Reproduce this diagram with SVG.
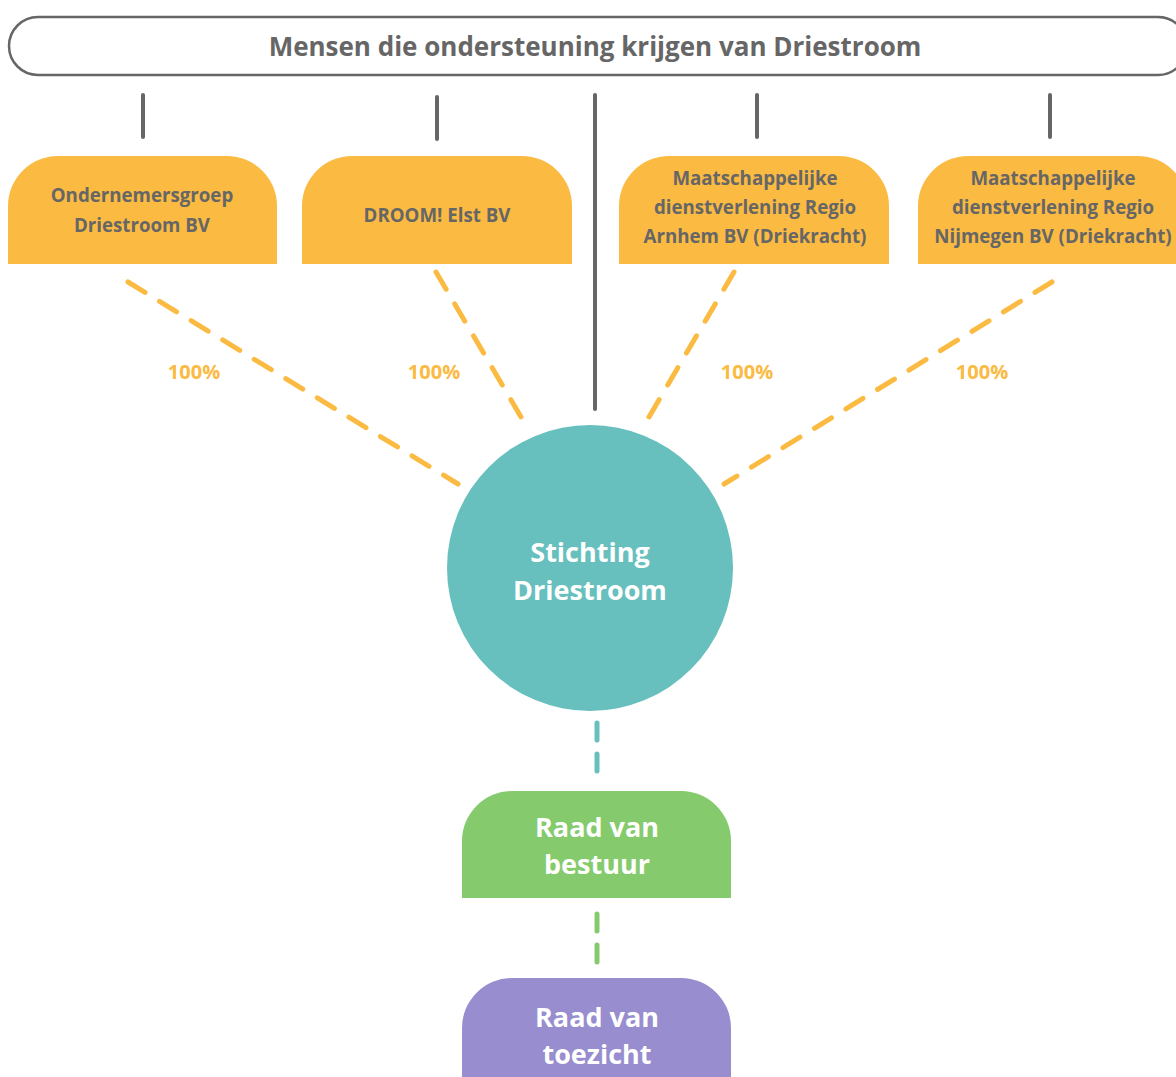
<svg xmlns="http://www.w3.org/2000/svg" width="1176" height="1077" viewBox="0 0 1176 1077">
<defs>
<style>
.gray{stroke:#666;stroke-width:4;stroke-linecap:round;fill:none}
.odash{stroke:#FBBA42;stroke-width:5;stroke-linecap:round;stroke-dasharray:20 17;fill:none}
.tdash{stroke:#67C0BD;stroke-width:5;stroke-linecap:round;stroke-dasharray:17 14;fill:none}
.gdash{stroke:#85CB6D;stroke-width:5;stroke-linecap:round;stroke-dasharray:17 14;fill:none}
.otxt{font-family:"Open Sans","Liberation Sans",sans-serif;font-weight:700;font-size:18.7px;fill:#666;text-anchor:middle}
.pct{font-family:"Open Sans","Liberation Sans",sans-serif;font-weight:700;font-size:20px;fill:#FBBA42;text-anchor:middle}
.wtxt{font-family:"Open Sans","Liberation Sans",sans-serif;font-weight:700;font-size:27px;fill:#fff;text-anchor:middle}
.orange{fill:#FBBA42}
</style>
</defs>
<g id="header">
<rect x="9" y="17" width="1178" height="58" rx="29" fill="#fff" stroke="#666" stroke-width="2.5"/>
<text x="595" y="56" font-family="'Open Sans','Liberation Sans',sans-serif" font-weight="700" font-size="26" fill="#666" text-anchor="middle">Mensen die ondersteuning krijgen van Driestroom</text>
</g>
<g id="connectors">
<line class="gray" x1="143" y1="95" x2="143" y2="137"/>
<line class="gray" x1="437" y1="97" x2="437" y2="139"/>
<line class="gray" x1="595" y1="95" x2="595" y2="409"/>
<line class="gray" x1="757" y1="95" x2="757" y2="137"/>
<line class="gray" x1="1050" y1="95" x2="1050" y2="137"/>
<line class="odash" x1="128" y1="282" x2="458" y2="484"/>
<line class="odash" x1="436" y1="272" x2="524" y2="422"/>
<line class="odash" x1="734" y1="272" x2="646" y2="422"/>
<line class="odash" x1="1052" y1="282" x2="724" y2="484"/>
<line class="tdash" x1="597" y1="723" x2="597" y2="772"/>
<line class="gdash" x1="597" y1="914" x2="597" y2="963"/>
<text class="pct" x="194" y="379">100%</text>
<text class="pct" x="434" y="379">100%</text>
<text class="pct" x="747" y="379">100%</text>
<text class="pct" x="982" y="379">100%</text>
</g>
<g id="ondernemersgroep">
<path class="orange" d="M8 264 V206 A50 50 0 0 1 58 156 H227 A50 50 0 0 1 277 206 V264 Z"/>
<text class="otxt" x="142" y="201.5">Ondernemersgroep</text>
<text class="otxt" x="142" y="231.5">Driestroom BV</text>
</g>
<g id="droom">
<path class="orange" d="M302 264 V206 A50 50 0 0 1 352 156 H522 A50 50 0 0 1 572 206 V264 Z"/>
<text class="otxt" x="437" y="221.5">DROOM! Elst BV</text>
</g>
<g id="arnhem">
<path class="orange" d="M619 264 V206 A50 50 0 0 1 669 156 H839 A50 50 0 0 1 889 206 V264 Z"/>
<text class="otxt" x="755" y="184.5">Maatschappelijke</text>
<text class="otxt" x="755" y="213.5">dienstverlening Regio</text>
<text class="otxt" x="755" y="242.5">Arnhem BV (Driekracht)</text>
</g>
<g id="nijmegen">
<path class="orange" d="M918 264 V206 A50 50 0 0 1 968 156 H1138 A50 50 0 0 1 1188 206 V264 Z"/>
<text class="otxt" x="1053" y="184.5">Maatschappelijke</text>
<text class="otxt" x="1053" y="213.5">dienstverlening Regio</text>
<text class="otxt" x="1053" y="242.5">Nijmegen BV (Driekracht)</text>
</g>
<g id="stichting">
<circle cx="590" cy="568" r="143" fill="#67C0BD"/>
<text class="wtxt" x="590" y="561.5">Stichting</text>
<text class="wtxt" x="590" y="599.5">Driestroom</text>
</g>
<g id="raad-van-bestuur">
<path d="M462 898 V841 A50 50 0 0 1 512 791 H681 A50 50 0 0 1 731 841 V898 Z" fill="#85CB6D"/>
<text class="wtxt" x="597" y="836.5">Raad van</text>
<text class="wtxt" x="597" y="873.5">bestuur</text>
</g>
<g id="raad-van-toezicht">
<path d="M462 1080 V1028 A50 50 0 0 1 512 978 H681 A50 50 0 0 1 731 1028 V1080 Z" fill="#978DCF"/>
<text class="wtxt" x="597" y="1026.5">Raad van</text>
<text class="wtxt" x="597" y="1063.5">toezicht</text>
</g>
</svg>
